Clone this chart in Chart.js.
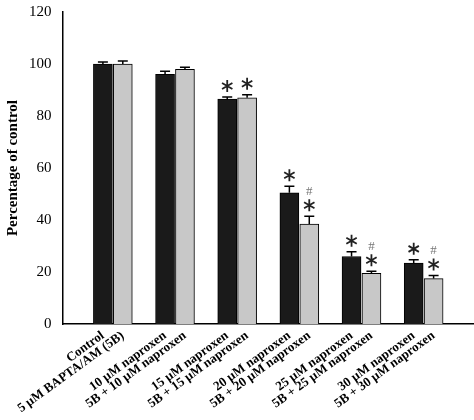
<!DOCTYPE html><html><head><meta charset="utf-8">
<script src="https://cdn.jsdelivr.net/npm/chart.js@4"></script>
<style>html,body{margin:0;background:#fff}#w{width:474px;height:420px}</style></head><body><div id="w"><canvas id="c"></canvas></div>
<script>
const labels=["Control","5 μM BAPTA/AM (5B)","10 μM naproxen","5B + 10 μM naproxen","15 μM naproxen","5B + 15 μM naproxen","20 μM naproxen","5B + 20 μM naproxen","25 μM naproxen","5B + 25 μM naproxen","30 μM naproxen","5B + 30 μM naproxen"];
const naproxenOnly=[100,96,86.5,50.5,26,23.5];
const withBapta=[100,98,87,38.5,19.5,17.5];
const errNaproxen=[0.8,1.2,0.8,2.5,1.8,1.2];
const errBapta=[1.2,0.8,1.2,3,0.8,1.2];
const marksNaproxen=["","","*","*","*","*"];
const marksBapta=["","","*","#*","#*","#*"];
const off=0.16;
const pos=[];labels.forEach((l,i)=>pos.push(Math.floor(i/2)+(i%2?off:-off)));
function star(ctx,x,y,r){ctx.save();ctx.strokeStyle='#222';ctx.lineWidth=1.8;ctx.beginPath();for(let k=0;k<3;k++){const a=Math.PI/2+k*Math.PI/3;ctx.moveTo(x+r*Math.cos(a),y+r*Math.sin(a));ctx.lineTo(x-r*Math.cos(a),y-r*Math.sin(a));}ctx.stroke();ctx.restore();}
const errPlugin={id:'err',afterDatasetsDraw(ch){const ctx=ch.ctx,y=ch.scales.y;
ch.data.datasets.forEach((ds,di)=>{const meta=ch.getDatasetMeta(di);meta.data.forEach((b,i)=>{const v=ds.data[i].y,e=ds.err[i];const yt=y.getPixelForValue(v+e);
ctx.save();ctx.strokeStyle='#000';ctx.lineWidth=1.5;ctx.beginPath();ctx.moveTo(b.x,b.y);ctx.lineTo(b.x,yt);ctx.moveTo(b.x-5,yt);ctx.lineTo(b.x+5,yt);ctx.stroke();
const m=ds.marks[i];let yy=yt-11;ctx.textAlign='center';ctx.textBaseline='middle';
for(let k=m.length-1;k>=0;k--){const c=m[k];if(c==='*'){star(ctx,b.x,yy,6);yy-=16;}else{ctx.fillStyle='#777';ctx.font='13px "Liberation Serif"';ctx.fillText('#',b.x,yy+2);yy-=14;}}
ctx.restore();});});}};
new Chart(document.getElementById('c'),{type:'bar',
data:{datasets:[
{data:naproxenOnly.map((v,i)=>({x:i-off,y:v})),err:errNaproxen,marks:marksNaproxen,backgroundColor:'#1a1a1a',borderColor:'#000',borderWidth:1,barThickness:19,grouped:false},
{data:withBapta.map((v,i)=>({x:i+off,y:v})),err:errBapta,marks:marksBapta,backgroundColor:'#c8c8c8',borderColor:'#000',borderWidth:1,barThickness:19,grouped:false}]},
options:{animation:false,responsive:true,maintainAspectRatio:false,layout:{padding:{top:8,right:0}},
plugins:{legend:{display:false},tooltip:{enabled:false}},
scales:{x:{type:'linear',min:-0.81,max:5.81,offset:false,grid:{display:false,drawTicks:false},border:{color:'#000',width:1.5},
afterBuildTicks(s){s.ticks=pos.map(v=>({value:v}));},
ticks:{autoSkip:false,maxRotation:36,minRotation:36,color:'#000',padding:4,font:{family:'"Liberation Serif"',size:13,weight:'bold'},callback:(v,i)=>labels[i]}},
y:{min:0,max:120,grid:{display:false},border:{color:'#000',width:1.5},ticks:{stepSize:20,color:'#000',font:{family:'"Liberation Serif"',size:15}},
title:{display:true,text:'Percentage of control',color:'#000',font:{family:'"Liberation Serif"',size:15,weight:'bold'}}}}},
plugins:[errPlugin]});
</script></body></html>
